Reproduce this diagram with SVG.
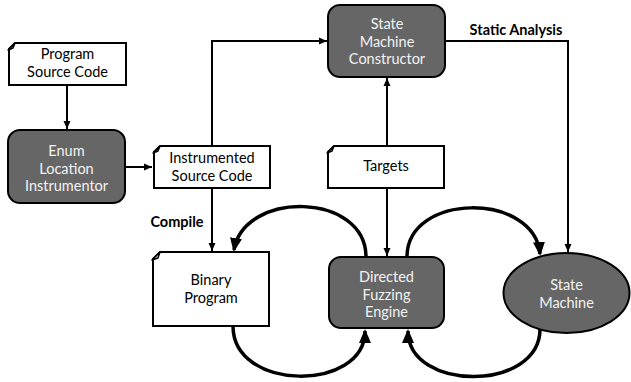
<svg xmlns="http://www.w3.org/2000/svg" width="631" height="382" viewBox="0 0 631 382">
<defs>
<style>
.doc{fill:#fff;stroke:#000;stroke-width:2}
.fold{fill:#ddd;stroke:#000;stroke-width:1.5;stroke-linejoin:round}
.proc{fill:#666;stroke:#000;stroke-width:2}
.t{font-family:Lato,"Open Sans",sans-serif;font-size:14.5px;text-anchor:middle;fill:#000}
.w{fill:#f2f2f2}
.b{font-family:Lato,"Open Sans",sans-serif;font-size:14.5px;font-weight:bold;fill:#000}
.thin{fill:none;stroke:#000;stroke-width:2}
.thick{fill:none;stroke:#000;stroke-width:3.5}
</style>
<marker id="sm" viewBox="0 0 8 8" refX="8" refY="4" markerWidth="8" markerHeight="8" markerUnits="userSpaceOnUse" orient="auto"><path d="M0,0.5 L8,4 L0,7.5 Z" fill="#000"/></marker>
<marker id="bg" viewBox="0 0 14 12" refX="12" refY="6" markerWidth="14" markerHeight="12" markerUnits="userSpaceOnUse" orient="auto"><path d="M0,0 L14,6 L0,12 Z" fill="#000"/></marker>
</defs>

<g id="connectors">
<path class="thin" d="M67,85 V129" marker-end="url(#sm)"/>
<path class="thin" d="M125,167 H152" marker-end="url(#sm)"/>
<path class="thin" d="M212,146 V41 H327" marker-end="url(#sm)"/>
<path class="thin" d="M387,146 V78" marker-end="url(#sm)"/>
<path class="thin" d="M445,41 H568 V252" marker-end="url(#sm)"/>
<path class="thin" d="M212,188 V251" marker-end="url(#sm)"/>
<path class="thin" d="M387,188 V256" marker-end="url(#sm)"/>
<path class="thick" d="M366,257 C366,192 244,190 234,250" marker-end="url(#bg)"/>
<path class="thick" d="M233,326 C233,392 365,392 365,331" marker-end="url(#bg)"/>
<path class="thick" d="M407,257 C407,192 535,192 540,254" marker-end="url(#bg)"/>
<path class="thick" d="M540,329 C540,392 408,392 408,331" marker-end="url(#bg)"/>
<text class="b" x="516" y="35" text-anchor="middle">Static Analysis</text>
<text class="b" x="177" y="227" text-anchor="middle">Compile</text>
</g>

<g id="program-source">
<path class="doc" d="M15,43 H126 V85 H9 V49 Z"/>
<path class="fold" d="M8,50 L15,43 L13,48 Z"/>
<text class="t" x="67.5" y="59">Program</text>
<text class="t" x="67.5" y="76.5">Source Code</text>
</g>

<g id="enum-instrumentor">
<rect class="proc" x="8" y="130" width="117" height="73" rx="12"/>
<text class="t w" x="66.5" y="156">Enum</text>
<text class="t w" x="66.5" y="173.5">Location</text>
<text class="t w" x="66.5" y="191">Instrumentor</text>
</g>

<g id="instrumented-source">
<path class="doc" d="M160,146 H270 V188 H154 V152 Z"/>
<path class="fold" d="M153,153 L160,146 L158,151 Z"/>
<text class="t" x="212" y="163">Instrumented</text>
<text class="t" x="212" y="180.5">Source Code</text>
</g>

<g id="sm-constructor">
<rect class="proc" x="328" y="5" width="117" height="72" rx="12"/>
<text class="t w" x="387" y="29">State</text>
<text class="t w" x="387" y="46.5">Machine</text>
<text class="t w" x="387" y="64">Constructor</text>
</g>

<g id="targets">
<path class="doc" d="M334,146 H444 V188 H328 V152 Z"/>
<path class="fold" d="M327,153 L334,146 L332,151 Z"/>
<text class="t" x="386" y="171">Targets</text>
</g>

<g id="binary-program">
<path class="doc" d="M160,252 H269 V326 H153 V259 Z"/>
<path class="fold" d="M152,260 L160,252 L158,258 Z"/>
<text class="t" x="211" y="285">Binary</text>
<text class="t" x="211" y="302.5">Program</text>
</g>

<g id="fuzzing-engine">
<rect class="proc" x="329" y="257" width="115" height="71" rx="12"/>
<text class="t w" x="386.5" y="282">Directed</text>
<text class="t w" x="386.5" y="299.5">Fuzzing</text>
<text class="t w" x="386.5" y="317">Engine</text>
</g>

<g id="state-machine">
<ellipse class="proc" cx="566.5" cy="293" rx="63" ry="40"/>
<text class="t w" x="566.5" y="290">State</text>
<text class="t w" x="566.5" y="307.5">Machine</text>
</g>
</svg>
